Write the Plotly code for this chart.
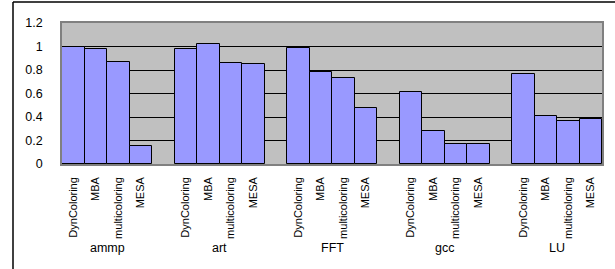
import plotly.graph_objects as go

groups = ["ammp", "art", "FFT", "gcc", "LU"]
methods = ["DynColoring", "MBA", "multicoloring", "MESA"]
values = {
    "ammp": [1.00, 0.98, 0.87, 0.15],
    "art": [0.98, 1.02, 0.86, 0.855],
    "FFT": [0.99, 0.78, 0.73, 0.475],
    "gcc": [0.61, 0.285, 0.17, 0.17],
    "LU": [0.77, 0.405, 0.37, 0.38],
}
y_ticks = [0, 0.2, 0.4, 0.6, 0.8, 1, 1.2]
y_ticktext = ["0", "0.2", "0.4", "0.6", "0.8", "1", "1.2"]

W, H = 615, 269
ML, MR, MT, MB = 62, 13, 23, 105
FONT = "Liberation Sans, Arial, sans-serif"

xs, ys, labels = [], [], []
for g, grp in enumerate(groups):
    for i, m in enumerate(methods):
        xs.append(g * 5 + i)
        ys.append(values[grp][i])
        labels.append(m)

fig = go.Figure()
fig.add_trace(go.Bar(
    x=xs, y=ys, width=1,
    marker=dict(color="#9999FF", line=dict(color="black", width=1)),
    hoverinfo="y",
))

annotations = []
for g, grp in enumerate(groups):
    annotations.append(dict(
        x=g * 5 + 1.5, y=-0.595, xref="x", yref="paper",
        text=grp, showarrow=False, xanchor="center", yanchor="middle",
        font=dict(family=FONT, size=12.5, color="black"),
    ))

pw = W - ML - MR
ph = H - MT - MB
# outer frame (only top and left edges visible in the reference)
fx0 = (13 - ML) / pw
fy1 = (MT - 2) / ph + 1
fy0 = -(MB + 5) / ph
shapes = [
    dict(type="line", xref="paper", yref="paper", x0=fx0, x1=(W - ML + 5) / pw,
         y0=fy1, y1=fy1, line=dict(color="black", width=1.5)),
    dict(type="line", xref="paper", yref="paper", x0=fx0, x1=fx0,
         y0=fy0, y1=fy1, line=dict(color="black", width=1.5)),
]

fig.update_layout(
    width=W, height=H,
    margin=dict(l=ML, r=MR, t=MT, b=MB),
    paper_bgcolor="white",
    plot_bgcolor="#C0C0C0",
    bargap=0,
    showlegend=False,
    annotations=annotations,
    shapes=shapes,
    font=dict(family=FONT, size=11, color="black"),
    xaxis=dict(
        range=[-0.5, 23.5],
        tickmode="array", tickvals=xs, ticktext=labels,
        tickangle=-90, showgrid=False, zeroline=False,
        showline=True, mirror=True, linecolor="#808080", linewidth=1.5,
        ticks="", ticklabelstandoff=7,
        tickfont=dict(family=FONT, size=11, color="black"),
    ),
    yaxis=dict(
        range=[0, 1.2],
        tickmode="array", tickvals=y_ticks, ticktext=y_ticktext,
        showgrid=True, gridcolor="black", gridwidth=1,
        zeroline=False,
        showline=True, mirror=True, linecolor="#808080", linewidth=1.5,
        ticks="", ticklabelstandoff=15,
        tickfont=dict(family=FONT, size=12.5, color="black"),
    ),
)

fig.write_html("out.html", config={"displayModeBar": False},
               post_script="document.body.style.margin='0';")
